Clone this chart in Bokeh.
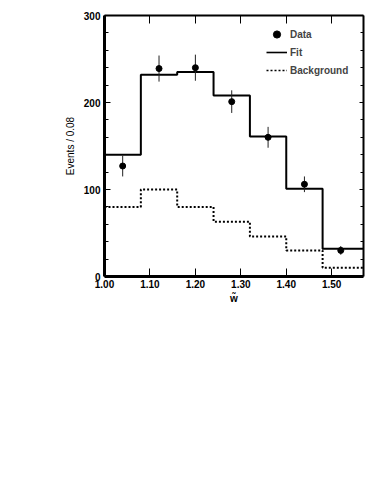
import math
from bokeh.plotting import figure
from bokeh.models import (Range1d, LinearAxis, FixedTicker, Legend, LegendItem,
                          CustomJSTickFormatter)
from bokeh.embed import file_html
from bokeh.resources import INLINE

# ---- data ----
bin_edges = [1.00, 1.08, 1.16, 1.24, 1.32, 1.40, 1.48]
x_end = 1.57
bin_centers = [1.04, 1.12, 1.20, 1.28, 1.36, 1.44, 1.52]
fit_values = [140, 232, 235, 208, 161, 101, 32]
bkg_values = [80, 100, 80, 63, 46, 30, 10]
data_values = [127, 239, 240, 201, 160, 106, 30]
data_errors = [12, 15, 15, 13, 12, 9, 5]
x_ticks = [1.0, 1.1, 1.2, 1.3, 1.4, 1.5]
y_major = [0, 100, 200, 300]
y_minor = [20, 40, 60, 80, 120, 140, 160, 180, 220, 240, 260, 280]

FONT = "Liberation Sans"
NAN = float("nan")

p = figure(frame_width=259, frame_height=261, x_range=Range1d(1.0, x_end),
           y_range=Range1d(0, 300), output_backend="svg", toolbar_location=None,
           min_border_left=104, min_border_top=15, min_border_right=8,
           min_border_bottom=60, x_axis_type=None, y_axis_type=None)
p.outline_line_color = None
p.xgrid.visible = False
p.ygrid.visible = False

def style_axis(ax, lw, tick_in, minor_in, labels):
    ax.axis_line_width = lw
    ax.axis_line_color = "black"
    ax.major_tick_in = tick_in
    ax.major_tick_out = 0
    ax.minor_tick_in = minor_in
    ax.minor_tick_out = 0
    ax.major_tick_line_width = 1
    ax.minor_tick_line_width = 1
    if not labels:
        ax.major_label_text_font_size = "0px"
        ax.major_label_text_alpha = 0
    else:
        ax.major_label_text_font = FONT
        ax.major_label_text_font_style = "bold"
        ax.major_label_text_font_size = "10px"
        ax.major_label_text_color = "black"

fmt = CustomJSTickFormatter(code="return tick.toFixed(2);")
yfmt = CustomJSTickFormatter(code="return tick.toFixed(0);")

xb = LinearAxis(ticker=FixedTicker(ticks=x_ticks), formatter=fmt)
style_axis(xb, 3, 8, 0, True)
xb.major_label_standoff = 3
xb.axis_label = "w\u0303"
xb.axis_label_text_font = FONT
xb.axis_label_text_font_style = "bold"
xb.axis_label_text_font_size = "10px"
xb.axis_label_text_color = "black"
xb.axis_label_standoff = 2
p.add_layout(xb, "below")

xt = LinearAxis(ticker=FixedTicker(ticks=x_ticks), formatter=fmt)
style_axis(xt, 2, 8, 0, False)
p.add_layout(xt, "above")

yl = LinearAxis(ticker=FixedTicker(ticks=y_major, minor_ticks=y_minor), formatter=yfmt)
style_axis(yl, 3, 6, 4, True)
yl.major_label_standoff = 4
yl.axis_label = "Events / 0.08"
yl.axis_label_text_font = FONT
yl.axis_label_text_font_style = "normal"
yl.axis_label_text_font_size = "10px"
yl.axis_label_text_color = "black"
yl.axis_label_standoff = 5
p.add_layout(yl, "left")

yr = LinearAxis(ticker=FixedTicker(ticks=y_major, minor_ticks=y_minor), formatter=yfmt)
style_axis(yr, 2, 4, 3, False)
p.add_layout(yr, "right")

# histograms
step_x = bin_edges + [x_end]
fit_r = p.step(step_x, fit_values + [fit_values[-1]], mode="after",
               line_color="black", line_width=2)
bkg_r = p.step(step_x, bkg_values + [bkg_values[-1]], mode="after",
               line_color="black", line_width=2, line_dash="2 2")

# data points with error bars
lo = [v - e for v, e in zip(data_values, data_errors)]
hi = [v + e for v, e in zip(data_values, data_errors)]
p.segment(bin_centers, lo, bin_centers, hi, line_color="#222222", line_width=1)
p.scatter(bin_centers, data_values, size=6, color="black")

# legend (glyph-only renderers, nothing drawn in the plot)
leg_data = p.scatter([NAN], [NAN], size=10, color="black")
leg_fit = p.line([NAN, NAN], [NAN, NAN], line_color="black", line_width=1.6)
leg_bkg = p.line([NAN, NAN], [NAN, NAN], line_color="black", line_width=1.6, line_dash="2 2")
legend = Legend(items=[LegendItem(label="Data", renderers=[leg_data]),
                       LegendItem(label="Fit", renderers=[leg_fit]),
                       LegendItem(label="Background", renderers=[leg_bkg])],
                location=(162, 197), border_line_color=None,
                background_fill_alpha=0, padding=0, margin=0, spacing=0,
                glyph_width=21, glyph_height=18, label_height=18,
                label_standoff=3, label_text_font=FONT,
                label_text_font_style="bold", label_text_font_size="10px")
p.add_layout(legend, "center")

open("out.html", "w").write(file_html(p, INLINE))
